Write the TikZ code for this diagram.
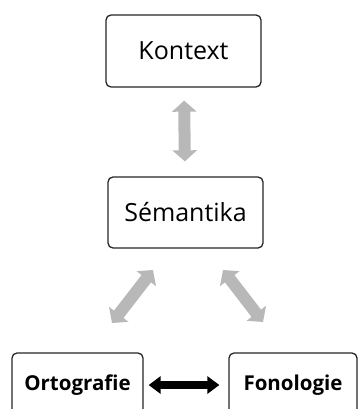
\documentclass[tikz,border=0pt]{standalone}
\usepackage{fontspec}
\setmainfont{Open Sans}
\usetikzlibrary{arrows.meta}

\begin{document}
\begin{tikzpicture}[x=1pt, y=-1pt]
    \useasboundingbox (0,0) rectangle (360,409);
    \clip (0,0) rectangle (360,409);

    \tikzset{BoxStyle/.style={draw=black!85, line width=1.3pt, rounded corners=5pt,
        fill=white, inner sep=0pt}}
    \node[BoxStyle, minimum width=155pt, minimum height=72pt,
        font=\fontsize{25}{29}\selectfont] (Kontext) at (183.5,51) {Kontext};
    \node[BoxStyle, minimum width=155pt, minimum height=71pt,
        font=\fontsize{25}{29}\selectfont] (Semantika) at (185.5,212.5) {Sémantika};

    \tikzset{BoxStyle/.append style={font=\fontsize{20.5}{24}\selectfont\bfseries}}
    \node[BoxStyle, minimum width=131pt, minimum height=64pt] (Ortografie) at (77.5,385) {Ortografie};
    \node[BoxStyle, minimum width=128pt, minimum height=64pt] (Fonologie) at (293,385) {Fonologie};

    % ends of the slanted arrows
    \coordinate (SL) at (153,270);
    \coordinate (OL) at (112,323);
    \coordinate (SR) at (223,270);
    \coordinate (FR) at (263,322);

    \tikzset{GrayArrow/.style={draw=black!28, line width=12pt,
        {Triangle[width=24pt,length=11pt]}-{Triangle[width=24pt,length=11pt]}}}
    \draw[GrayArrow, shorten <=13pt, shorten >=15pt] (Kontext) -- (Semantika);
    \draw[GrayArrow] (SL) -- (OL);
    \draw[GrayArrow] (SR) -- (FR);

    \tikzset{BlackArrow/.style={draw=black, line width=8pt,
        {Triangle[width=17pt,length=12pt]}-{Triangle[width=17pt,length=12pt]}}}
    \draw[BlackArrow, shorten <=5pt, shorten >=9pt] (Ortografie) -- (Fonologie);
\end{tikzpicture}
\end{document}
